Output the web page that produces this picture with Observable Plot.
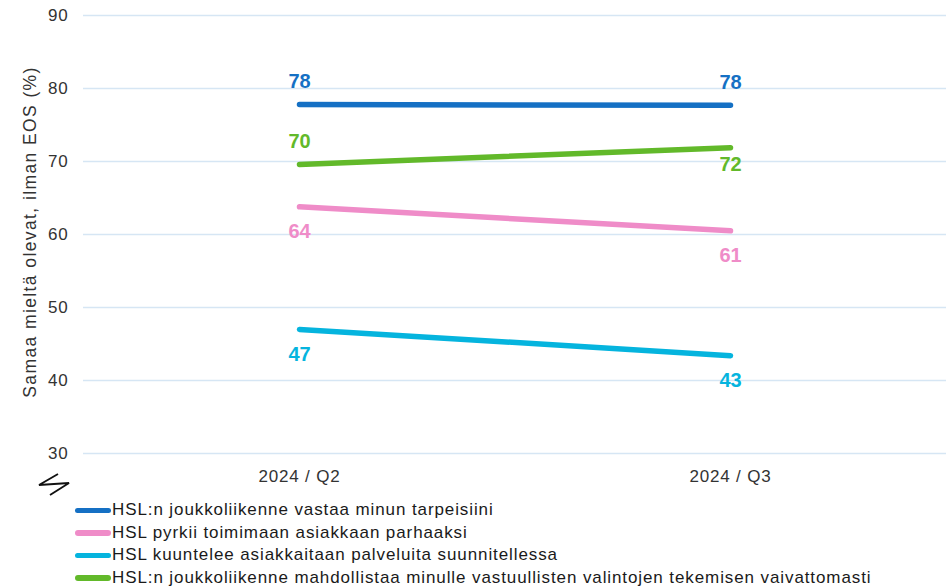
<!DOCTYPE html>
<html>
<head>
<meta charset="utf-8">
<script src="https://cdn.jsdelivr.net/npm/d3@7"></script>
<script src="https://cdn.jsdelivr.net/npm/@observablehq/plot@0.6"></script>
<style>
  html, body { margin: 0; padding: 0; background: #fff; }
  body { width: 946px; height: 588px; overflow: hidden; font-family: "Liberation Sans", Arial, sans-serif; }
  #legend { padding-top: 4px; padding-left: 75px; }
  .row { display: flex; align-items: center; height: 22.5px; font-size: 17px; letter-spacing: 0.9px; color: #1a1a1a; white-space: nowrap; }
  .sw { width: 36px; height: 5.5px; border-radius: 3px; margin-right: 1px; }
</style>
</head>
<body>
<div id="chart"></div>
<div id="legend"></div>
<script>
const periods = ["2024 / Q2", "2024 / Q3"];
const seriesNames = [
  "HSL:n joukkoliikenne vastaa minun tarpeisiini",
  "HSL pyrkii toimimaan asiakkaan parhaaksi",
  "HSL kuuntelee asiakkaitaan palveluita suunnitellessa",
  "HSL:n joukkoliikenne mahdollistaa minulle vastuullisten valintojen tekemisen vaivattomasti"
];
const seriesColors = ["#1570c4", "#ef8cc8", "#05b4de", "#62b92a"];
const valuesQ2 = [77.8, 63.8, 47.0, 69.6];
const valuesQ3 = [77.7, 60.5, 43.4, 71.9];
const labelsQ2 = ["78", "64", "47", "70"];
const labelsQ3 = ["78", "61", "43", "72"];
const yTicks = [30, 40, 50, 60, 70, 80, 90];
const yTitle = "Samaa mieltä olevat, ilman EOS (%)";

const data = [];
seriesNames.forEach((s, i) => {
  data.push({series: s, period: periods[0], value: valuesQ2[i], label: labelsQ2[i], color: seriesColors[i]});
  data.push({series: s, period: periods[1], value: valuesQ3[i], label: labelsQ3[i], color: seriesColors[i]});
});
// label placement: above the line or below
const above = d => (d.series === seriesNames[0]) || (d.series === seriesNames[3] && d.period === periods[0]);
const aboveData = data.filter(above);
const belowData = data.filter(d => !above(d));
const belowTight = belowData.filter(d => d.series === seriesNames[3]);
const belowNormal = belowData.filter(d => d.series !== seriesNames[3]);

const font = "'Liberation Sans', Arial, sans-serif";
const plot = Plot.plot({
  width: 946,
  height: 495,
  marginTop: 15,
  marginBottom: 42,
  marginLeft: 83,
  marginRight: 0,
  style: {fontFamily: font, fontSize: "17px", color: "#333", background: "#fff", overflow: "visible"},
  x: {type: "point", domain: periods, padding: 0.5, label: null},
  y: {domain: [30, 90], ticks: yTicks, label: null},
  marks: [
    Plot.gridY(yTicks, {stroke: "#d6e6f4", strokeOpacity: 1, strokeWidth: 1.3}),
    Plot.axisY({ticks: yTicks, tickSize: 0, tickPadding: 15, fill: "#333", fontSize: 17, label: null}),
    Plot.axisX({tickSize: 0, tickPadding: 16, label: null, fill: "#333", fontSize: 17}),
    Plot.line(data, {x: "period", y: "value", z: "series", stroke: "color", strokeWidth: 5.5, strokeLinecap: "round"}),
    Plot.text(aboveData, {x: "period", y: "value", text: "label", fill: "color", dy: -23, fontWeight: "bold", fontSize: 20}),
    Plot.text(belowNormal, {x: "period", y: "value", text: "label", fill: "color", dy: 25, fontWeight: "bold", fontSize: 20}),
    Plot.text(belowTight, {x: "period", y: "value", text: "label", fill: "color", dy: 17, fontWeight: "bold", fontSize: 20})
  ]
});
document.getElementById("chart").appendChild(plot);

const svg = d3.select(plot);
svg.selectAll("g[aria-label='y-axis tick label'] text, g[aria-label='x-axis tick label'] text")
  .style("letter-spacing", "0.8px");

// y axis title
const ys = plot.scale("y");
const yMid = (ys.apply(30) + ys.apply(90)) / 2 - 2;
svg.append("text")
  .attr("transform", `translate(30,${yMid}) rotate(-90)`)
  .attr("text-anchor", "middle").attr("dy", "0.35em")
  .attr("font-size", 17.5).attr("fill", "#333")
  .style("letter-spacing", "1.4px")
  .text(yTitle);

// axis break symbol below the y axis
const by = ys.apply(30) + 32;
const bx = 54;
svg.append("path")
  .attr("d", `M${bx+4},${by-11} L${bx-15},${by} L${bx+15},${by-2} L${bx-4},${by+10}`)
  .attr("fill", "none").attr("stroke", "#111").attr("stroke-width", 1.9).attr("stroke-linejoin", "miter");

const legend = d3.select("#legend");
seriesNames.forEach((s, i) => {
  const r = legend.append("div").attr("class", "row");
  r.append("div").attr("class", "sw").style("background", seriesColors[i]);
  r.append("span").text(s);
});
</script>
</body>
</html>
